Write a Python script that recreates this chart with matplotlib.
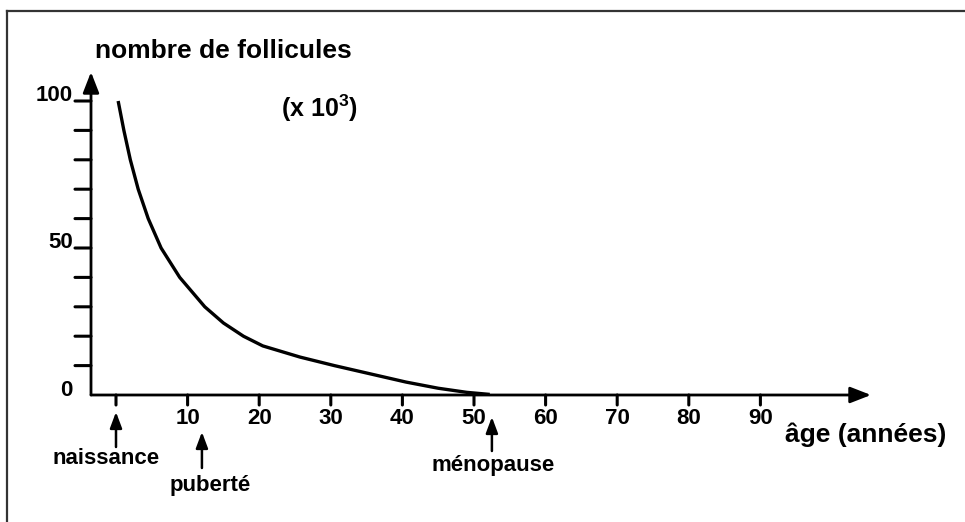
"""
Nombre de follicules ovariens en fonction de l'âge.
"""

import matplotlib

matplotlib.use("Agg")
import matplotlib.pyplot as plt
from matplotlib.lines import Line2D
from matplotlib.transforms import offset_copy

# Data (age in years, follicles in thousands)
age_years = [0.3, 1.1, 2.0, 3.1, 4.5, 6.3, 8.9, 12.4, 15.0, 17.8,
             20.5, 25.7, 30.5, 35.5, 40.5, 45.0, 49.0, 52.2]
follicles_k = [100.0, 90.0, 80.0, 70.0, 60.0, 50.0, 40.0, 30.0, 24.5, 20.0,
               16.7, 12.9, 10.0, 7.2, 4.4, 2.3, 0.9, 0.2]

x_ticks = [0, 10, 20, 30, 40, 50, 60, 70, 80, 90]
x_tick_labels = ["", "10", "20", "30", "40", "50", "60", "70", "80", "90"]
y_ticks = [10, 20, 30, 40, 50, 60, 70, 80, 90, 100]
y_tick_labels = {0: "0", 50: "50", 100: "100"}

events = ["naissance", "puberté", "ménopause"]
event_ages = [0, 12, 52.5]

FONT = "Liberation Sans"
plt.rcParams["mathtext.fontset"] = "custom"
plt.rcParams["mathtext.rm"] = "Liberation Sans:bold"
plt.rcParams["mathtext.bf"] = "Liberation Sans:bold"
W, H = 965, 522

fig = plt.figure(figsize=(W / 100, H / 100), dpi=100)
ax = fig.add_axes([0, 0, 1, 1])
# 1 year = 7.16 px, 1 unit = 2.94 px, origin at pixel (116, 395)
ax.set_xlim(-116 / 7.16, (W - 116) / 7.16)
ax.set_ylim((395 - H) / 2.94, 395 / 2.94)
ax.axis("off")


def shifted(dx=0, dy=0):
    # data transform moved by a few pixels
    return offset_copy(ax.transData, fig=fig, x=dx, y=dy, units="dots")


x_axis_at = -25 / 7.16  # y axis sits a little left of age 0
x_axis_end = (871 - 116) / 7.16
y_axis_end = (395 - 72) / 2.94

# axes with arrow heads
arrow_kw = dict(arrowstyle="-|>,head_length=0.9,head_width=0.35",
                color="black", lw=2, shrinkA=0, shrinkB=0,
                mutation_scale=14)
ax.annotate("", xy=(x_axis_end, 0), xytext=(x_axis_at, 0),
            arrowprops=arrow_kw)
ax.annotate("", xy=(x_axis_at, y_axis_end), xytext=(x_axis_at, 0),
            arrowprops=arrow_kw)

tick_kw = dict(arrowstyle="-", lw=2.2, color="black", shrinkA=0, shrinkB=0)
label_kw = dict(fontsize=16, fontweight="bold", family=FONT)

# x ticks and labels
for t, lab in zip(x_ticks, x_tick_labels):
    ax.annotate("", xy=(t, 0), xycoords=shifted(dy=-10),
                xytext=(t, 0), textcoords=ax.transData, arrowprops=tick_kw)
    if lab:
        ax.text(t, 0, lab, transform=shifted(dy=-24), ha="center",
                va="center", **label_kw)

# y ticks and labels
for t in y_ticks:
    ax.annotate("", xy=(x_axis_at, t), xycoords=shifted(dx=-16),
                xytext=(x_axis_at, t), textcoords=ax.transData,
                arrowprops=tick_kw)
for t, lab in y_tick_labels.items():
    ax.text(x_axis_at, t, lab, transform=shifted(dx=-18, dy=5),
            ha="right", va="center", **label_kw)

# the curve
ax.plot(age_years, follicles_k, color="black", lw=2.4,
        solid_capstyle="butt", solid_joinstyle="round")

# event arrows below the x axis
arrow_px = {"naissance": (-17, -52), "puberté": (-37, -73),
            "ménopause": (-22, -56)}
text_px = {"naissance": (-10, -63), "puberté": (8, -91),
           "ménopause": (1, -70)}
for name, age in zip(events, event_ages):
    tip, tail = arrow_px[name]
    ax.annotate("", xy=(age, 0), xycoords=shifted(dy=tip),
                xytext=(age, 0), textcoords=shifted(dy=tail),
                arrowprops=dict(arrowstyle="-|>,head_length=0.8,head_width=0.3",
                                lw=1.8, color="black", shrinkA=0, shrinkB=0,
                                mutation_scale=12))
    dx, dy = text_px[name]
    ax.text(age, 0, name, transform=shifted(dx=dx, dy=dy), ha="center",
            va="center", **label_kw)

# titles
fig.text(95 / W, 1 - 58 / H, "nombre de follicules", ha="left",
         va="baseline", fontsize=19, fontweight="bold", family=FONT)
fig.text(319 / W, 1 - 108 / H, r"(x 10$^{3}$)", ha="center", va="center",
         fontsize=18, fontweight="bold", family=FONT)
fig.text(785 / W, 1 - 435 / H, "âge (années)", ha="left", va="center",
         fontsize=19, fontweight="bold", family=FONT)

# frame: only the top and left sides show
fig.add_artist(Line2D([7 / W, 7 / W], [0, 1 - 11 / H], color="#333333",
                      lw=1.6, transform=fig.transFigure))
fig.add_artist(Line2D([7 / W, 1], [1 - 11 / H, 1 - 11 / H], color="#333333",
                      lw=1.6, transform=fig.transFigure))

fig.savefig("out.png", dpi=100)
